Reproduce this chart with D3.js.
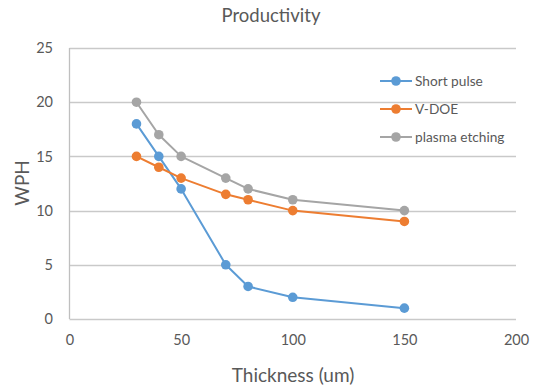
<!DOCTYPE html>
<html><head><meta charset="utf-8">
<script src="https://cdn.jsdelivr.net/npm/d3@7"></script>
<style>body{margin:0;background:#fff}svg{display:block}text{font-family:Lato,"Open Sans",sans-serif;fill:#595959}</style>
</head><body><svg id="c" width="534" height="385"></svg>
<script>
const thickness = [30, 40, 50, 70, 80, 100, 150];
const shortPulse = [18, 15, 12, 5, 3, 2, 1];
const vDOE = [15, 14, 13, 11.5, 11, 10, 9];
const plasmaEtching = [20, 17, 15, 13, 12, 11, 10];
const seriesNames = ["Short pulse", "V-DOE", "plasma etching"];
const seriesColors = ["#5B9BD5", "#ED7D31", "#A5A5A5"];
const xTicks = [0, 50, 100, 150, 200];
const yTicks = [0, 5, 10, 15, 20, 25];

const series = [shortPulse, vDOE, plasmaEtching].map((v, i) => ({
  name: seriesNames[i], color: seriesColors[i],
  pts: thickness.map((t, j) => [t, v[j]])
}));

const svg = d3.select("#c");
const x = d3.scaleLinear().domain([0, 200]).range([69.5, 516]);
const y = d3.scaleLinear().domain([0, 25]).range([319, 48]);

// gridlines
svg.append("g").selectAll("line").data(yTicks).join("line")
  .attr("x1", x(0)).attr("x2", x(200))
  .attr("y1", d => Math.round(y(d)) + 0.5).attr("y2", d => Math.round(y(d)) + 0.5)
  .attr("stroke", "#C9C9C9").attr("stroke-width", 1.3);

// y axis labels
const ya = svg.append("g").attr("transform", "translate(55,0)")
  .call(d3.axisLeft(y).tickValues(yTicks).tickSize(0).tickPadding(2));
ya.select(".domain").remove();
ya.selectAll("text").attr("font-size", 14.5).attr("fill", "#595959").attr("font-family", "Lato, sans-serif");

// vertical axis line
svg.append("line").attr("x1", 69.5).attr("x2", 69.5).attr("y1", y(25)).attr("y2", y(0))
  .attr("stroke", "#BFBFBF").attr("stroke-width", 1.3);

// x axis labels
const xa = svg.append("g").attr("transform", "translate(0,335)")
  .call(d3.axisBottom(x).tickValues(xTicks).tickSize(0).tickPadding(0));
xa.select(".domain").remove();
xa.selectAll("text").attr("font-size", 14.5).attr("fill", "#595959").attr("font-family", "Lato, sans-serif");

// lines
const line = d3.line().x(d => x(d[0])).y(d => y(d[1]));
series.forEach(s => {
  svg.append("path").datum(s.pts).attr("d", line).attr("fill", "none")
    .attr("stroke", s.color).attr("stroke-width", 2).attr("stroke-linejoin", "round");
  svg.append("g").selectAll("circle").data(s.pts).join("circle")
    .attr("cx", d => x(d[0])).attr("cy", d => y(d[1])).attr("r", 4.8).attr("fill", s.color);
});

// legend
const lg = svg.append("g");
series.forEach((s, i) => {
  const ly = 81 + i * 28;
  lg.append("line").attr("x1", 380).attr("x2", 412).attr("y1", ly).attr("y2", ly)
    .attr("stroke", s.color).attr("stroke-width", 2);
  lg.append("circle").attr("cx", 396).attr("cy", ly).attr("r", 4.8).attr("fill", s.color);
  lg.append("text").attr("x", 415).attr("y", ly).attr("dy", "0.35em").attr("font-size", 13.7).text(s.name);
});

// titles
svg.append("text").attr("x", 271).attr("y", 22).attr("text-anchor", "middle").attr("font-size", 18.5).text("Productivity");
svg.append("text").attr("x", 293).attr("y", 382).attr("text-anchor", "middle").attr("font-size", 19).text("Thickness (um)");
svg.append("text").attr("transform", "translate(29,183) rotate(-90)").attr("text-anchor", "middle").attr("font-size", 19).text("WPH");
</script></body></html>
